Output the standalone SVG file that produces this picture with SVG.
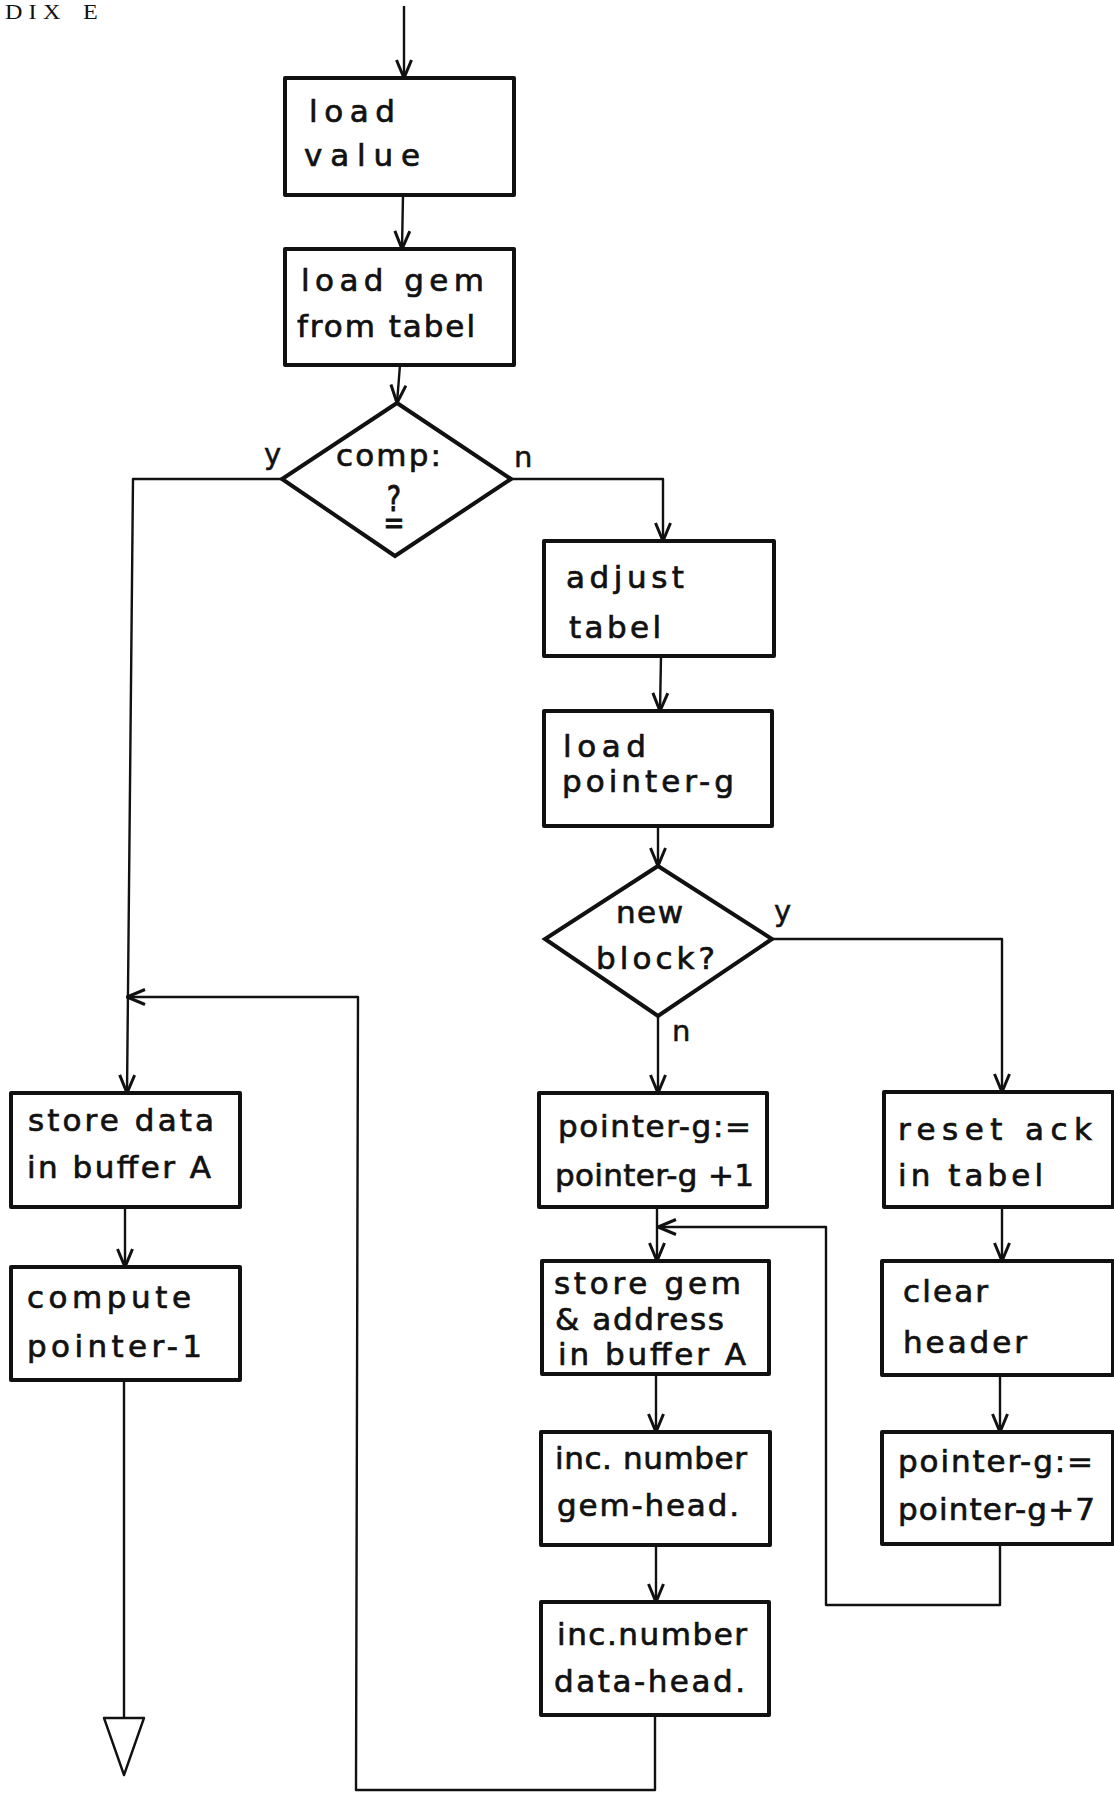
<svg xmlns="http://www.w3.org/2000/svg" width="1114" height="1793" viewBox="0 0 1114 1793">
  <style>
    .box { fill: #fff; stroke: #111; stroke-width: 4; stroke-linejoin: round; }
    .dec { fill: #fff; stroke: #111; stroke-width: 4; stroke-linejoin: miter; }
    .t { font-family: "DejaVu Sans", "Liberation Sans", sans-serif; font-size: 31px; fill: #111; stroke: #111; stroke-width: 0.7; }
    .lbl { font-family: "DejaVu Sans", "Liberation Sans", sans-serif; font-size: 29px; fill: #111; stroke: #111; stroke-width: 0.5; }
    .edge { fill: none; stroke: #111; stroke-width: 2.4; stroke-linejoin: round; }
    .arr { marker-end: url(#head); }
    .hdr { font-family: "Liberation Serif", "DejaVu Serif", serif; font-size: 21px; fill: #111; }
  </style>
  <defs>
    <marker id="head" viewBox="0 0 20 18" refX="19" refY="9" markerWidth="20" markerHeight="18" markerUnits="userSpaceOnUse" orient="auto">
      <path d="M1,1.5 L19,9 L1,16.5" fill="none" stroke="#111" stroke-width="3"/>
    </marker>
  </defs>
  <rect width="1114" height="1793" fill="#fff"/>

  <!-- page heading fragment -->
  <text class="hdr" transform="scale(1.15,1)" x="4.3 24.8 37.4 54.8 72.2" y="19">DIX E</text>

  <!-- connectors -->
  <g id="connectors">
    <path class="edge arr" d="M404,6 L404,78"/>
    <path class="edge arr" d="M403,195 L402,249"/>
    <path class="edge arr" d="M400,365 L397,403"/>
    <path class="edge arr" d="M282,479 L133,479 L127,1093"/>
    <path class="edge arr" d="M511,479 L663,479 L663,541"/>
    <path class="edge arr" d="M661,656 L660,711"/>
    <path class="edge arr" d="M658,826 L658,866"/>
    <path class="edge arr" d="M658,1016 L658,1093"/>
    <path class="edge arr" d="M772,939 L1002,939 L1002,1092"/>
    <path class="edge arr" d="M125,1207 L125,1267"/>
    <path class="edge" d="M124,1380 L124,1718"/>
    <path class="edge arr" d="M657,1207 L657,1261"/>
    <path class="edge arr" d="M1000,1544 L1000,1605 L826,1605 L826,1227 L658,1227"/>
    <path class="edge arr" d="M656,1374 L656,1432"/>
    <path class="edge arr" d="M656,1545 L656,1602"/>
    <path class="edge arr" d="M655,1715 L655,1790 L356,1790 L358,997 L127,997"/>
    <path class="edge arr" d="M1002,1207 L1002,1261"/>
    <path class="edge arr" d="M1000,1375 L1000,1432"/>
    <!-- off-page connector -->
    <path class="edge" d="M104,1718 L144,1718 L124,1775 Z"/>
  </g>

  <!-- main column -->
  <g id="load-value">
    <rect class="box" x="285" y="78" width="229" height="117"/>
    <text class="t" x="309" y="122" font-size="33" textLength="86" lengthAdjust="spacing">load</text>
    <text class="t" x="304" y="166" font-size="33" textLength="116" lengthAdjust="spacing">value</text>
  </g>
  <g id="load-gem">
    <rect class="box" x="285" y="249" width="229" height="116"/>
    <text class="t" x="301" y="291" font-size="32" textLength="183" lengthAdjust="spacing">load gem</text>
    <text class="t" x="297" y="337" font-size="32" textLength="178" lengthAdjust="spacing">from tabel</text>
  </g>
  <g id="comp">
    <polygon class="dec" points="397,403 511,479 395,556 282,479"/>
    <text class="t" x="336" y="466" font-size="30" textLength="105" lengthAdjust="spacing">comp:</text>
    <text class="t" transform="scale(1,1.3)" text-anchor="middle"><tspan x="394" y="393" font-size="27">?</tspan><tspan x="394" y="411" font-size="25">=</tspan></text>
    <text class="lbl" x="264" y="464">y</text>
    <text class="lbl" x="514" y="467">n</text>
  </g>

  <!-- "no" branch -->
  <g id="adjust-tabel">
    <rect class="box" x="544" y="541" width="230" height="115"/>
    <text class="t" x="566" y="588" font-size="32" textLength="118" lengthAdjust="spacing">adjust</text>
    <text class="t" x="569" y="638" font-size="32" textLength="92" lengthAdjust="spacing">tabel</text>
  </g>
  <g id="load-pointer-g">
    <rect class="box" x="544" y="711" width="228" height="115"/>
    <text class="t" x="563" y="757" font-size="33" textLength="83" lengthAdjust="spacing">load</text>
    <text class="t" x="562" y="792" font-size="32" textLength="172" lengthAdjust="spacing">pointer-g</text>
  </g>
  <g id="new-block">
    <polygon class="dec" points="658,866 772,939 658,1016 545,939"/>
    <text class="t" x="616" y="923" font-size="32" textLength="67" lengthAdjust="spacing">new</text>
    <text class="t" x="596" y="969" font-size="32" textLength="119" lengthAdjust="spacing">block?</text>
    <text class="lbl" x="774" y="921">y</text>
    <text class="lbl" x="672" y="1041">n</text>
  </g>

  <!-- "yes" branch of comp -->
  <g id="store-data">
    <rect class="box" x="11" y="1093" width="229" height="114"/>
    <text class="t" x="28" y="1131" font-size="30" textLength="186" lengthAdjust="spacing">store data</text>
    <text class="t" x="27" y="1178" font-size="31" textLength="184" lengthAdjust="spacing">in buffer A</text>
  </g>
  <g id="compute-pointer">
    <rect class="box" x="11" y="1267" width="229" height="113"/>
    <text class="t" x="27" y="1308" font-size="30" textLength="164" lengthAdjust="spacing">compute</text>
    <text class="t" x="27" y="1357" font-size="31" textLength="175" lengthAdjust="spacing">pointer-1</text>
  </g>

  <!-- existing block path -->
  <g id="pointer-inc1">
    <rect class="box" x="539" y="1093" width="228" height="114"/>
    <text class="t" x="558" y="1137" font-size="30" textLength="193" lengthAdjust="spacing">pointer-g:=</text>
    <text class="t" x="555" y="1186" font-size="30" textLength="199" lengthAdjust="spacing">pointer-g +1</text>
  </g>
  <g id="store-gem">
    <rect class="box" x="542" y="1261" width="227" height="113"/>
    <text class="t" x="554" y="1294" font-size="29" textLength="187" lengthAdjust="spacing">store gem</text>
    <text class="t" x="555" y="1330" font-size="29" textLength="169" lengthAdjust="spacing">&amp; address</text>
    <text class="t" x="558" y="1365" font-size="29" textLength="188" lengthAdjust="spacing">in buffer A</text>
  </g>
  <g id="inc-gem-head">
    <rect class="box" x="541" y="1432" width="229" height="113"/>
    <text class="t" x="555" y="1469" font-size="30" textLength="192" lengthAdjust="spacing">inc. number</text>
    <text class="t" x="557" y="1516" font-size="30" textLength="182" lengthAdjust="spacing">gem-head.</text>
  </g>
  <g id="inc-data-head">
    <rect class="box" x="541" y="1602" width="228" height="113"/>
    <text class="t" x="557" y="1645" font-size="30" textLength="190" lengthAdjust="spacing">inc.number</text>
    <text class="t" x="554" y="1692" font-size="30" textLength="191" lengthAdjust="spacing">data-head.</text>
  </g>

  <!-- new block path -->
  <g id="reset-ack">
    <rect class="box" x="884" y="1092" width="229" height="115"/>
    <text class="t" x="898" y="1140" font-size="30" textLength="194" lengthAdjust="spacing">reset ack</text>
    <text class="t" x="898" y="1186" font-size="30" textLength="145" lengthAdjust="spacing">in tabel</text>
  </g>
  <g id="clear-header">
    <rect class="box" x="882" y="1261" width="231" height="114"/>
    <text class="t" x="903" y="1302" font-size="31" textLength="85" lengthAdjust="spacing">clear</text>
    <text class="t" x="903" y="1353" font-size="31" textLength="124" lengthAdjust="spacing">header</text>
  </g>
  <g id="pointer-inc7">
    <rect class="box" x="882" y="1432" width="231" height="112"/>
    <text class="t" x="898" y="1472" font-size="30" textLength="195" lengthAdjust="spacing">pointer-g:=</text>
    <text class="t" x="898" y="1520" font-size="30" textLength="197" lengthAdjust="spacing">pointer-g+7</text>
  </g>
</svg>
